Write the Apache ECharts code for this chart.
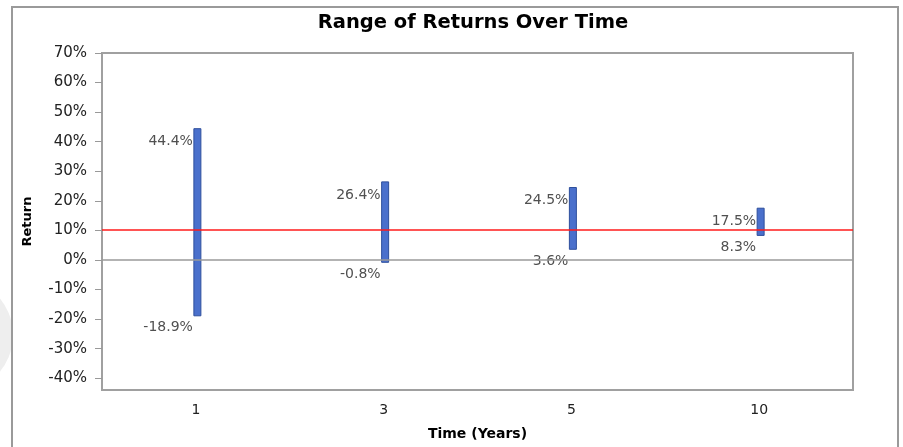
<!DOCTYPE html>
<html>
<head>
<meta charset="utf-8">
<script src="https://cdn.jsdelivr.net/npm/echarts@6/dist/echarts.min.js"></script>
<style>html,body{margin:0;padding:0;background:#fff;}#c{width:903px;height:447px;}</style>
</head>
<body>
<div id="c"></div>
<script>
var categories = ['1', '3', '5', '10'];
var lowValues = [-18.9, -0.8, 3.6, 8.3];
var highValues = [44.4, 26.4, 24.5, 17.5];
var averageReturn = 10.3;
var yTicks = [-40, -30, -20, -10, 0, 10, 20, 30, 40, 50, 60, 70];

var chart = echarts.init(document.getElementById('c'));
var rangeData = categories.map(function (c, i) { return [i, lowValues[i], highValues[i]]; });

chart.setOption({
  animation: false,
  backgroundColor: '#fff',
  title: {
    text: 'Range of Returns Over Time',
    left: 468, top: 8, textAlign: 'center',
    textStyle: { fontFamily: 'DejaVu Sans', fontWeight: 'bold', fontSize: 19.5, color: '#000' }
  },
  graphic: [
    { type: 'circle', shape: { cx: -45, cy: 335, r: 58 }, style: { fill: '#eeeeee' }, z: -10 },
    { type: 'rect', shape: { x: 12, y: 7, width: 886, height: 460 }, style: { fill: 'none', stroke: '#9a9a9a', lineWidth: 2 }, z: -5 }
  ],
  grid: { left: 102, top: 53, right: 50, bottom: 57, show: true, borderColor: '#a0a0a0', borderWidth: 2, backgroundColor: '#fff' },
  xAxis: {
    type: 'category', data: categories, boundaryGap: true,
    name: 'Time (Years)', nameLocation: 'middle', nameGap: 37,
    nameTextStyle: { fontFamily: 'DejaVu Sans', fontWeight: 'bold', fontSize: 14, color: '#000' },
    axisLine: { show: false },
    axisTick: { alignWithLabel: true, length: 6, lineStyle: { color: '#999' } },
    axisLabel: { fontFamily: 'DejaVu Sans', fontSize: 14, color: '#222', margin: 13 },
    splitLine: { show: false }
  },
  yAxis: {
    type: 'value', min: -44, max: 70,
    name: 'Return', nameLocation: 'middle', nameGap: 68, nameRotate: 90,
    nameTextStyle: { fontFamily: 'DejaVu Sans', fontWeight: 'bold', fontSize: 13, color: '#000' },
    axisLine: { show: false },
    axisTick: { show: true, customValues: yTicks, length: 7, lineStyle: { color: '#999' } },
    axisLabel: { customValues: yTicks, formatter: '{value}%', fontFamily: 'DejaVu Sans', fontSize: 15, color: '#222', margin: 15 },
    splitLine: { show: false }
  },
  series: [{
    type: 'custom',
    data: rangeData,
    encode: { x: 0, y: [1, 2] },
    renderItem: function (params, api) {
      var idx = api.value(0), lo = api.value(1), hi = api.value(2);
      var pTop = api.coord([idx, hi]);
      var pBot = api.coord([idx, lo]);
      var w = 7, x0 = pTop[0] - 2;
      var fmt = function (v) { return v.toFixed(1) + '%'; };
      return {
        type: 'group',
        children: [
          { type: 'rect', shape: { x: x0, y: pTop[1], width: w, height: pBot[1] - pTop[1] },
            style: { fill: '#4a70cc', stroke: '#2e4f9c', lineWidth: 1 } },
          { type: 'text', style: { x: x0 - 1, y: pTop[1] + 13, text: fmt(hi), align: 'right', verticalAlign: 'middle',
            font: '14px "DejaVu Sans"', fill: '#505050' } },
          { type: 'text', style: { x: x0 - 1, y: pBot[1] + 12, text: fmt(lo), align: 'right', verticalAlign: 'middle',
            font: '14px "DejaVu Sans"', fill: '#505050' } }
        ]
      };
    },
    markLine: {
      silent: true, symbol: 'none', label: { show: false },
      data: [
        { yAxis: 0, lineStyle: { color: '#9a9a9a', width: 1.5, type: 'solid' } },
        { yAxis: averageReturn, lineStyle: { color: '#ff1a1a', width: 1.5, type: 'solid' } }
      ]
    },
    z: 3
  }]
});
</script>
</body>
</html>
